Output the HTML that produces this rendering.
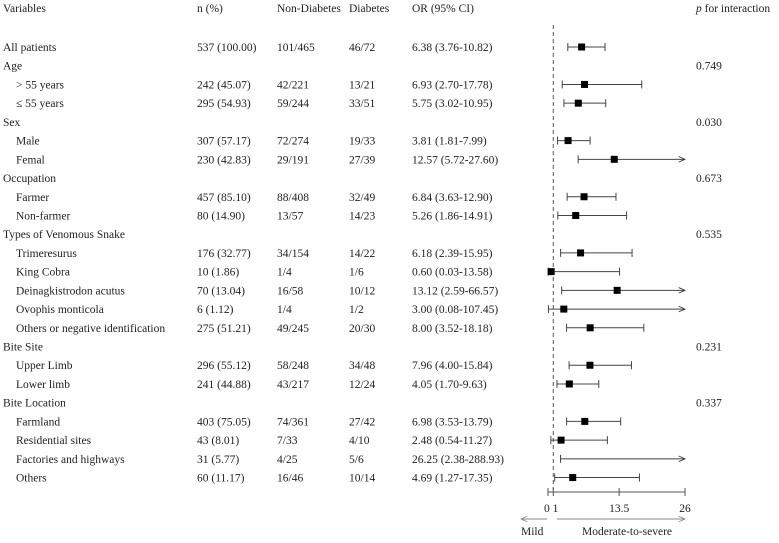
<!DOCTYPE html>
<html><head><meta charset="utf-8">
<style>
body{margin:0;background:#fff;}
svg text{font-family:"Liberation Serif",serif;font-size:11.5px;fill:#222;}
</style></head>
<body>
<svg id="chart" width="779" height="538" xmlns="http://www.w3.org/2000/svg">
<defs><marker id="arr" viewBox="0 0 10 10" refX="9" refY="5" markerWidth="7" markerHeight="7" orient="auto"><path d="M0,1 L9,5 L0,9" fill="none" stroke="#333" stroke-width="1.2"/></marker>
<marker id="arrg" viewBox="0 0 10 10" refX="9" refY="5" markerWidth="7" markerHeight="7" orient="auto"><path d="M0,1 L9,5 L0,9" fill="none" stroke="#888" stroke-width="1.2"/></marker></defs>
<g id="table"></g>
<g id="plot"></g>
</svg>
<script>
const labels=["All patients","Age","> 55 years","≤ 55 years","Sex","Male","Femal","Occupation","Farmer","Non-farmer","Types of Venomous Snake","Trimeresurus","King Cobra","Deinagkistrodon acutus","Ovophis monticola","Others or negative identification","Bite  Site","Upper Limb","Lower limb","Bite Location","Farmland","Residential sites","Factories and highways","Others"];
const indent=[0,0,1,1,0,1,1,0,1,1,0,1,1,1,1,1,0,1,1,0,1,1,1,1];
const nPct=["537 (100.00)","","242 (45.07)","295 (54.93)","","307 (57.17)","230 (42.83)","","457 (85.10)","80 (14.90)","","176 (32.77)","10 (1.86)","70 (13.04)","6 (1.12)","275 (51.21)","","296 (55.12)","241 (44.88)","","403 (75.05)","43 (8.01)","31 (5.77)","60 (11.17)"];
const nonDiab=["101/465","","42/221","59/244","","72/274","29/191","","88/408","13/57","","34/154","1/4","16/58","1/4","49/245","","58/248","43/217","","74/361","7/33","4/25","16/46"];
const diab=["46/72","","13/21","33/51","","19/33","27/39","","32/49","14/23","","14/22","1/6","10/12","1/2","20/30","","34/48","12/24","","27/42","4/10","5/6","10/14"];
const orVal=[6.38,null,6.93,5.75,null,3.81,12.57,null,6.84,5.26,null,6.18,0.60,13.12,3.00,8.00,null,7.96,4.05,null,6.98,2.48,26.25,4.69];
const ciLow=[3.76,null,2.70,3.02,null,1.81,5.72,null,3.63,1.86,null,2.39,0.03,2.59,0.08,3.52,null,4.00,1.70,null,3.53,0.54,2.38,1.27];
const ciHigh=[10.82,null,17.78,10.95,null,7.99,27.60,null,12.90,14.91,null,15.95,13.58,66.57,107.45,18.18,null,15.84,9.63,null,13.79,11.27,288.93,17.35];
const pRow=[1,4,7,10,16,19];const pVals=["0.749","0.030","0.673","0.535","0.231","0.337"];
const xTicks=[0,1,13.5,26];const xTickLabels=["0","1","13.5","26"];
const NS="http://www.w3.org/2000/svg";
const xs=v=>548+v*5.27, ys=i=>47+i*18.72;
const XMAX=26;
function mk(tag,at,parent,txt){const e=document.createElementNS(NS,tag);for(const k in at)e.setAttribute(k,at[k]);if(txt!==undefined)e.textContent=txt;parent.appendChild(e);return e;}
const T=document.getElementById('table'),P=document.getElementById('plot');
const heads=[["Variables",3],["n (%)",197],["Non-Diabetes",277],["Diabetes",349],["OR (95% CI)",412]];
heads.forEach(h=>{const t=mk('text',{x:h[1],y:12},T,h[0]);

});
const ph=mk('text',{x:696,y:12},T);ph.innerHTML='<tspan font-style="italic">p</tspan> for interaction';


labels.forEach((l,i)=>{const y=ys(i)+4;
const t=mk('text',{x:3+indent[i]*13,y:y},T,l);


if(nPct[i]){const a=mk('text',{x:197,y:y},T,nPct[i]);
const b=mk('text',{x:277,y:y},T,nonDiab[i]);
const c=mk('text',{x:349,y:y},T,diab[i]);
const d=mk('text',{x:412,y:y},T,orVal[i].toFixed(2)+" ("+ciLow[i].toFixed(2)+"-"+ciHigh[i].toFixed(2)+")");}
});
pRow.forEach((r,k)=>{const t=mk('text',{x:696,y:ys(r)+4},T,pVals[k]);});
const rl=mk('line',{x1:xs(1),x2:xs(1),y1:25,y2:490,stroke:'#555','stroke-dasharray':'4,3'},P);


orVal.forEach((v,i)=>{if(v===null)return;const y=ys(i);
const lo=Math.max(0,ciLow[i]),hi=Math.min(XMAX,ciHigh[i]);
const g=mk('g',{},P);


const ln=mk('line',{x1:xs(lo),x2:xs(hi),y1:y,y2:y,stroke:'#444','stroke-width':1},g);
if(ciHigh[i]>XMAX)ln.setAttribute('marker-end','url(#arr)');
else mk('line',{x1:xs(hi),x2:xs(hi),y1:y-4,y2:y+4,stroke:'#444'},g);
mk('line',{x1:xs(lo),x2:xs(lo),y1:y-4,y2:y+4,stroke:'#444'},g);
if(v<=XMAX){const s=mk('rect',{x:xs(v)-3.5,y:y-3.5,width:7,height:7,fill:'#000'},g);

}
});
const ax=mk('line',{x1:xs(0),x2:xs(26),y1:492,y2:492,stroke:'#555'},P);


xTicks.forEach((v,k)=>{mk('line',{x1:xs(v),x2:xs(v),y1:488,y2:496,stroke:'#555'},P);});
const tl=mk('text',{x:xs(0)-4,y:512},P,'0 1');
[2,3].forEach(k=>{const t=mk('text',{x:xs(xTicks[k]),y:512,'text-anchor':'middle'},P,xTickLabels[k]);});
mk('line',{x1:547,x2:521,y1:519,y2:519,stroke:'#888','marker-end':'url(#arrg)'},P);
mk('line',{x1:557,x2:685,y1:519,y2:519,stroke:'#888','marker-end':'url(#arrg)'},P);
const m1=mk('text',{x:521,y:535},P,'Mild');
const m2=mk('text',{x:582,y:535},P,'Moderate-to-severe');
</script>
</body></html>
